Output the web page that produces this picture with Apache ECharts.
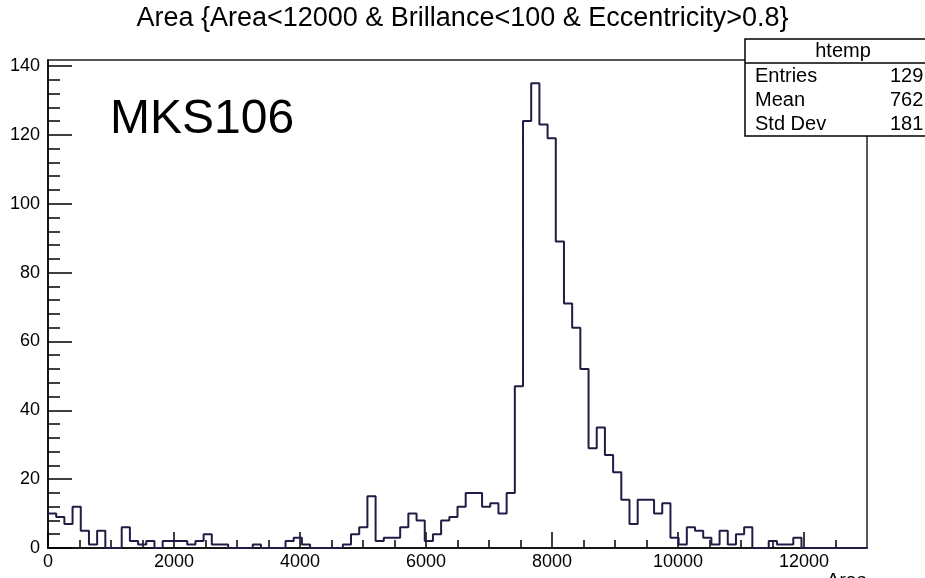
<!DOCTYPE html>
<html>
<head>
<meta charset="utf-8">
<script src="https://cdn.jsdelivr.net/npm/echarts@6/dist/echarts.min.js"></script>
<style>
html,body{margin:0;padding:0;background:#fff;}
#chart{width:925px;height:578px;}
</style>
</head>
<body>
<div id="chart"></div>
<script>
// ---- data ----
const titleText = 'Area {Area<12000 & Brillance<100 & Eccentricity>0.8}';
const binStart = 0;
const binWidth = 130;
const counts = [
  10, 9, 7, 12, 5, 1, 5, 0, 0, 6,
  2, 1, 2, 0, 2, 2, 2, 1, 2, 4,
  1, 1, 0, 0, 0, 1, 0, 0, 0, 2,
  3, 1, 0, 0, 0, 0, 1, 4, 6, 15,
  2, 3, 3, 6, 10, 8, 2, 4, 8, 9,
  12, 16, 16, 12, 13, 10, 16, 47, 124, 135,
  123, 119, 89, 71, 64, 52, 29, 35, 27, 22,
  14, 7, 14, 14, 10, 13, 3, 1, 6, 5,
  3, 1, 5, 1, 4, 6, 0, 0, 2, 1,
  1, 3, 0, 0, 0, 0, 0, 0, 0, 0
];
const xMajorTicks = [0, 2000, 4000, 6000, 8000, 10000, 12000];
const xMinorTicks = [500, 1000, 1500, 2500, 3000, 3500, 4500, 5000, 5500, 6500, 7000, 7500, 8500, 9000, 9500, 10500, 11000, 11500, 12500];
const yMajorTicks = [0, 20, 40, 60, 80, 100, 120, 140];
const yMinorTicks = [4, 8, 12, 16, 24, 28, 32, 36, 44, 48, 52, 56, 64, 68, 72, 76, 84, 88, 92, 96, 104, 108, 112, 116, 124, 128, 132, 136];
const xMax = 13000;
const yMax = 141.75;
const statsTitle = 'htemp';
const statsNames = ['Entries', 'Mean', 'Std Dev'];
const statsValues = ['129', '762', '181'];
const annotation = 'MKS106';
const xTitle = 'Area';

// histogram outline points (bin edges)
const histPoints = counts.map((c, i) => [binStart + i * binWidth, c]);
histPoints.push([binStart + counts.length * binWidth, counts[counts.length - 1]]);

const FONT = 'Liberation Sans, Arial, sans-serif';
const chart = echarts.init(document.getElementById('chart'), null, {renderer: 'canvas'});

const statRows = statsNames.map((n, i) => ({
  type: 'text', z: 101, left: 755, top: 66 + i * 24.3,
  style: {text: n, font: '20px ' + FONT, fill: '#000'}
})).concat(statsValues.map((v, i) => ({
  type: 'text', z: 101, left: 890, top: 66 + i * 24.3,
  style: {text: v, font: '20px ' + FONT, fill: '#000'}
})));

const option = {
  animation: false,
  backgroundColor: '#fff',
  title: {
    text: titleText, left: 'center', top: 0,
    textStyle: {fontFamily: FONT, fontSize: 27, fontWeight: 'normal', color: '#000'}
  },
  grid: {
    left: 48, right: 58, top: 60, bottom: 30,
    show: true, borderColor: '#222', borderWidth: 1.5, backgroundColor: 'transparent'
  },
  xAxis: [{
    type: 'value', min: 0, max: xMax, position: 'bottom',
    axisLine: {show: true, lineStyle: {color: '#000', width: 1.5}},
    axisTick: {show: true, inside: true, length: 16, lineStyle: {color: '#000', width: 1.5}, customValues: xMajorTicks},
    axisLabel: {show: true, customValues: xMajorTicks, formatter: v => String(v), fontFamily: FONT, fontSize: 18, color: '#000', margin: 5},
    splitLine: {show: false}
  }, {
    type: 'value', min: 0, max: xMax, position: 'bottom',
    axisLine: {show: false},
    axisTick: {show: true, inside: true, length: 8, lineStyle: {color: '#000', width: 1.5}, customValues: xMinorTicks},
    axisLabel: {show: false},
    splitLine: {show: false}
  }],
  yAxis: [{
    type: 'value', min: 0, max: yMax, position: 'left',
    axisLine: {show: true, lineStyle: {color: '#000', width: 1.5}},
    axisTick: {show: true, inside: true, length: 24, lineStyle: {color: '#000', width: 1.5}, customValues: yMajorTicks},
    axisLabel: {show: true, customValues: yMajorTicks, formatter: v => String(v), fontFamily: FONT, fontSize: 18, color: '#000', margin: 8},
    splitLine: {show: false}
  }, {
    type: 'value', min: 0, max: yMax, position: 'left',
    axisLine: {show: false},
    axisTick: {show: true, inside: true, length: 12, lineStyle: {color: '#000', width: 1.5}, customValues: yMinorTicks},
    axisLabel: {show: false},
    splitLine: {show: false}
  }],
  series: [{
    type: 'line', xAxisIndex: 0, yAxisIndex: 0,
    step: 'end', data: histPoints, showSymbol: false, symbol: 'none',
    lineStyle: {color: '#241a46', width: 2},
    clip: true, z: 5
  }],
  graphic: [
    {type: 'text', left: 110, top: 96, z: 100,
     style: {text: annotation, font: '48px ' + FONT, fill: '#000'}},
    {type: 'rect', z: 100, shape: {x: 745, y: 39, width: 200, height: 97},
     style: {fill: '#fff', stroke: '#000', lineWidth: 1.5}},
    {type: 'line', z: 101, shape: {x1: 745, y1: 63, x2: 945, y2: 63},
     style: {stroke: '#000', lineWidth: 1.5}},
    {type: 'text', z: 101, x: 843, y: 51,
     style: {text: statsTitle, font: '20px ' + FONT, fill: '#000', align: 'center', verticalAlign: 'middle'}},
    {type: 'text', z: 50, x: 867, y: 571,
     style: {text: xTitle, font: '19px ' + FONT, fill: '#000', align: 'right', verticalAlign: 'top'}}
  ].concat(statRows)
};
chart.setOption(option);
</script>
</body>
</html>
